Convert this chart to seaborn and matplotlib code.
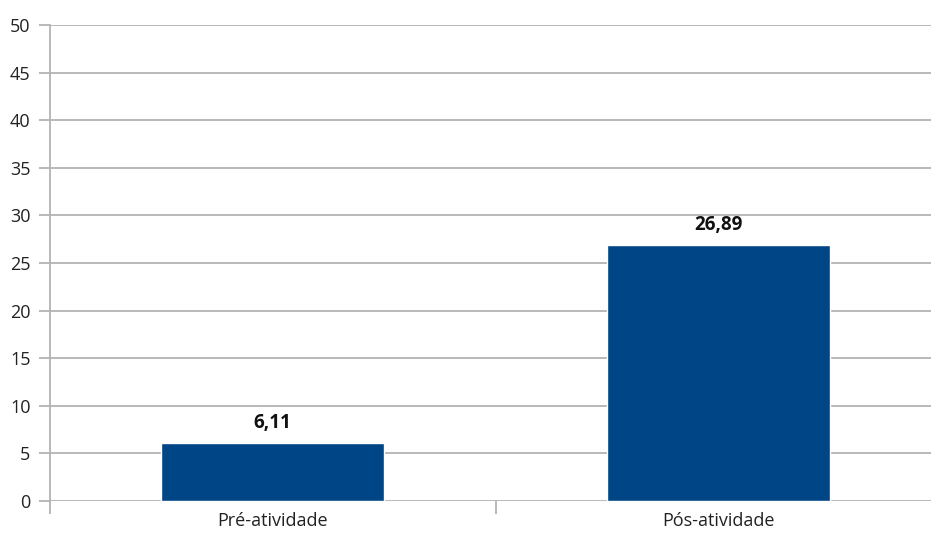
import matplotlib
matplotlib.use('Agg')
import matplotlib.pyplot as plt
import seaborn as sns
import pandas as pd

categories = ['Pré-atividade', 'Pós-atividade']
values = [6.11, 26.89]
value_labels = ['6,11', '26,89']
yticks = [0, 5, 10, 15, 20, 25, 30, 35, 40, 45, 50]

sns.set_style('white')
plt.rcParams['font.family'] = ['Open Sans', 'DejaVu Sans']

df = pd.DataFrame({'fase': categories, 'valor': values})

fig = plt.figure(figsize=(9.31, 5.33), dpi=100)
ax = fig.add_axes([50 / 931, 32 / 533, 891 / 931, 476 / 533])

sns.barplot(data=df, x='fase', y='valor', color='#004586', width=0.5,
            saturation=1, ax=ax, zorder=3)

ax.set_ylim(0, 50)
ax.set_xlim(-0.5, 1.5)
ax.set_yticks(yticks)
ax.set_yticklabels([str(t) for t in yticks])
ax.yaxis.grid(True, color='#b3b3b3', linewidth=1.3, zorder=0)
ax.set_axisbelow(True)

for s in ['top', 'right', 'bottom']:
    ax.spines[s].set_visible(False)
ax.spines['left'].set_color('#b3b3b3')
ax.spines['left'].set_linewidth(1.3)

ax.tick_params(axis='y', length=8, width=1.3, color='#b3b3b3', labelsize=13,
               pad=6, left=True, labelcolor='#222222')
ax.tick_params(axis='x', length=0, labelsize=13, pad=8, labelcolor='#222222')
ax.set_xticks([-0.5, 0.5, 1.5], minor=True)
ax.tick_params(axis='x', which='minor', length=9, width=1.3, color='#b3b3b3',
               bottom=True)

for i, (v, lab) in enumerate(zip(values, value_labels)):
    ax.annotate(lab, (i, v), xytext=(0, 7), textcoords='offset points',
                ha='center', va='bottom', fontsize=13.5, fontweight='bold',
                color='#111111')

ax.set_xlabel('')
ax.set_ylabel('')

fig.savefig('out.png', dpi=100)
